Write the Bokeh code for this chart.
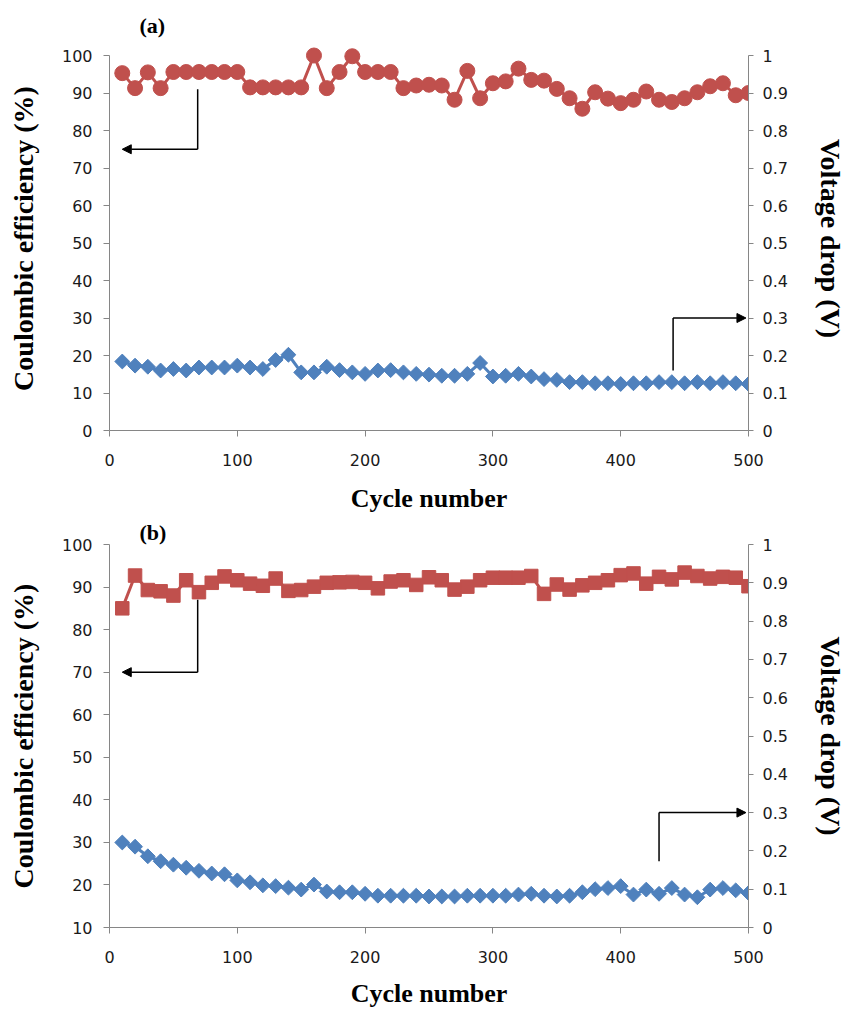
import math
from bokeh.plotting import figure
from bokeh.models import (Range1d, LinearAxis, FixedTicker, CustomJSTickFormatter,
                          Arrow, NormalHead)
from bokeh.layouts import column
from bokeh.embed import file_html
from bokeh.resources import INLINE

# ---------------- data ----------------
cycles = [10, 20, 30, 40, 50, 60, 70, 80, 90, 100,
          110, 120, 130, 140, 150, 160, 170, 180, 190, 200,
          210, 220, 230, 240, 250, 260, 270, 280, 290, 300,
          310, 320, 330, 340, 350, 360, 370, 380, 390, 400,
          410, 420, 430, 440, 450, 460, 470, 480, 490, 500]

# panel (a): coulombic efficiency (%) and voltage drop (V)
ce_a = [95.3, 91.3, 95.5, 91.3, 95.6, 95.6, 95.6, 95.6, 95.6, 95.6,
        91.5, 91.5, 91.5, 91.5, 91.5, 100.0, 91.3, 95.6, 99.8, 95.6,
        95.6, 95.6, 91.3, 92.0, 92.2, 92.0, 88.2, 95.9, 88.6, 92.6,
        93.1, 96.5, 93.5, 93.3, 91.1, 88.6, 85.8, 90.2, 88.5, 87.3,
        88.2, 90.4, 88.2, 87.6, 88.6, 90.2, 91.8, 92.6, 89.4, 90.0]
vd_a = [0.184, 0.173, 0.170, 0.160, 0.164, 0.160, 0.168, 0.168, 0.168, 0.173,
        0.168, 0.164, 0.188, 0.202, 0.155, 0.155, 0.170, 0.161, 0.155, 0.151,
        0.160, 0.161, 0.155, 0.151, 0.149, 0.146, 0.146, 0.151, 0.180, 0.144,
        0.146, 0.151, 0.144, 0.137, 0.135, 0.129, 0.129, 0.126, 0.126, 0.124,
        0.126, 0.126, 0.129, 0.129, 0.126, 0.129, 0.126, 0.129, 0.126, 0.124]

# panel (b)
ce_b = [85.0, 92.7, 89.3, 89.0, 88.0, 91.6, 88.8, 91.0, 92.5, 91.6,
        90.8, 90.3, 92.0, 89.1, 89.3, 90.1, 91.0, 91.1, 91.2, 91.0,
        89.7, 91.3, 91.6, 90.5, 92.3, 91.6, 89.4, 90.1, 91.6, 92.2,
        92.2, 92.2, 92.6, 88.4, 90.6, 89.4, 90.4, 91.0, 91.6, 92.8,
        93.2, 90.8, 92.4, 91.8, 93.4, 92.6, 92.0, 92.4, 92.2, 90.2]
vd_b = [0.222, 0.211, 0.186, 0.173, 0.164, 0.156, 0.148, 0.141, 0.139, 0.123,
        0.118, 0.110, 0.108, 0.104, 0.099, 0.112, 0.094, 0.092, 0.092, 0.088,
        0.083, 0.083, 0.083, 0.083, 0.081, 0.081, 0.081, 0.083, 0.083, 0.083,
        0.083, 0.086, 0.088, 0.083, 0.081, 0.083, 0.092, 0.100, 0.103, 0.108,
        0.086, 0.099, 0.088, 0.103, 0.086, 0.079, 0.099, 0.103, 0.097, 0.090]

x_ticks = [0, 100, 200, 300, 400, 500]
y_ticks_a = [0, 10, 20, 30, 40, 50, 60, 70, 80, 90, 100]
y_ticks_b = [10, 20, 30, 40, 50, 60, 70, 80, 90, 100]
v_ticks = [0, 0.1, 0.2, 0.3, 0.4, 0.5, 0.6, 0.7, 0.8, 0.9, 1.0]

panel_titles = ["(a)", "(b)"]
x_title = "Cycle number"
y_title = "Coulombic efficiency (%)"
v_title = "Voltage drop (V)"

# annotation arrows
arrow_ce_a = dict(x=69, y_from=91, y_to=75, x_tip=10)
arrow_vd_a = dict(x=441, y_from=0.16, y_to=0.30, x_tip=498)
arrow_ce_b = dict(x=69, y_from=87, y_to=70, x_tip=10)
arrow_vd_b = dict(x=430, y_from=0.173, y_to=0.30, x_tip=498)

# ---------------- styles ----------------
RED = "#C0504D"
BLUE = "#4F81BD"
AXC = "#868686"
TICK_FONT = "DejaVu Sans"
TITLE_FONT = "Liberation Serif"
W = 850
LEFT = 109
FRAME_W = 639


def style_axis(ax, standoff, label_standoff, title_size):
    ax.axis_line_color = AXC
    ax.major_tick_line_color = AXC
    ax.minor_tick_line_color = None
    ax.major_tick_in = 0
    ax.major_tick_out = 6
    ax.major_label_text_font = TICK_FONT
    ax.major_label_text_font_size = "16px"
    ax.major_label_text_color = "#1a1a1a"
    ax.major_label_standoff = standoff
    ax.axis_label_standoff = label_standoff
    ax.axis_label_text_font = TITLE_FONT
    ax.axis_label_text_font_style = "bold"
    ax.axis_label_text_font_size = title_size
    ax.axis_label_text_color = "black"


def make_panel(title, ce, vd, y_lo, y_hi, y_ticks, ce_marker, ce_size, height,
               top, bottom, title_standoff, x_std, x_lab_std, arr_ce, arr_vd):
    # y_hi may exceed 100 slightly so markers at 100 % are not clipped;
    # the axes themselves stop at 100 % / 1 V via their bounds.
    v_hi = (y_hi - y_lo) / (100 - y_lo)
    p = figure(width=W, height=height, x_range=Range1d(0, 500),
               y_range=Range1d(y_lo, y_hi), output_backend="svg",
               toolbar_location=None, min_border_left=LEFT,
               min_border_right=W - LEFT - FRAME_W,
               min_border_top=top, min_border_bottom=bottom)
    p.extra_y_ranges = {"v": Range1d(0, v_hi)}
    p.grid.visible = False
    p.outline_line_color = None
    p.background_fill_color = "white"

    p.title.text = title
    p.title.align = "left"
    p.title.offset = 30
    p.title.standoff = title_standoff
    p.title.text_font = TITLE_FONT
    p.title.text_font_style = "bold"
    p.title.text_font_size = "22px"
    p.title.text_color = "black"

    p.xaxis.ticker = FixedTicker(ticks=x_ticks)
    p.xaxis.axis_label = x_title
    style_axis(p.xaxis[0], x_std, x_lab_std, "26px")

    p.yaxis.ticker = FixedTicker(ticks=y_ticks)
    p.yaxis.bounds = (y_lo, 100)
    p.yaxis.axis_label = y_title
    style_axis(p.yaxis[0], 11, 20, "28px")

    rax = LinearAxis(y_range_name="v", axis_label=v_title, bounds=(0, 1),
                     ticker=FixedTicker(ticks=v_ticks),
                     formatter=CustomJSTickFormatter(
                         code="return Number(tick.toFixed(1)).toString();"))
    style_axis(rax, 9, 24, "28px")
    rax.major_tick_out = 5
    p.add_layout(rax, "right")

    # coulombic efficiency (left axis)
    p.line(cycles, ce, line_color=RED, line_width=3)
    p.scatter(cycles, ce, marker=ce_marker, size=ce_size, fill_color=RED,
              line_color=RED)
    # voltage drop (right axis)
    p.line(cycles, vd, line_color=BLUE, line_width=3, y_range_name="v")
    p.scatter(cycles, vd, marker="square", angle=math.pi / 4, size=10.5,
              fill_color=BLUE, line_color=BLUE, y_range_name="v")

    head = dict(size=9, fill_color="black", line_color="black")
    p.add_layout(Arrow(end=None, x_start=arr_ce["x"], y_start=arr_ce["y_from"],
                       x_end=arr_ce["x"], y_end=arr_ce["y_to"],
                       line_color="black", line_width=1.5))
    p.add_layout(Arrow(end=NormalHead(**head),
                       x_start=arr_ce["x"], y_start=arr_ce["y_to"],
                       x_end=arr_ce["x_tip"], y_end=arr_ce["y_to"],
                       line_color="black", line_width=1.5))
    p.add_layout(Arrow(end=None, x_start=arr_vd["x"], y_start=arr_vd["y_from"],
                       x_end=arr_vd["x"], y_end=arr_vd["y_to"], y_range_name="v",
                       line_color="black", line_width=1.5))
    p.add_layout(Arrow(end=NormalHead(**head),
                       x_start=arr_vd["x"], y_start=arr_vd["y_to"],
                       x_end=arr_vd["x_tip"], y_end=arr_vd["y_to"], y_range_name="v",
                       line_color="black", line_width=1.5))
    return p


# panel (a): axis 100..0 at page y 55..430 (frame extended 9 px above);
# panel (b): axis 100..10 at page y 543..927
p1 = make_panel(panel_titles[0], ce_a, vd_a, 0, 102.4, y_ticks_a, "circle", 15,
                517, 46, 87, 18, 17, 15, arrow_ce_a, arrow_vd_a)
p2 = make_panel(panel_titles[1], ce_b, vd_b, 10, 100, y_ticks_b, "square", 13.5,
                495, 26, 85, 0, 17, 13, arrow_ce_b, arrow_vd_b)

layout = column(p1, p2, spacing=0)
open("out.html", "w").write(file_html(layout, INLINE))
